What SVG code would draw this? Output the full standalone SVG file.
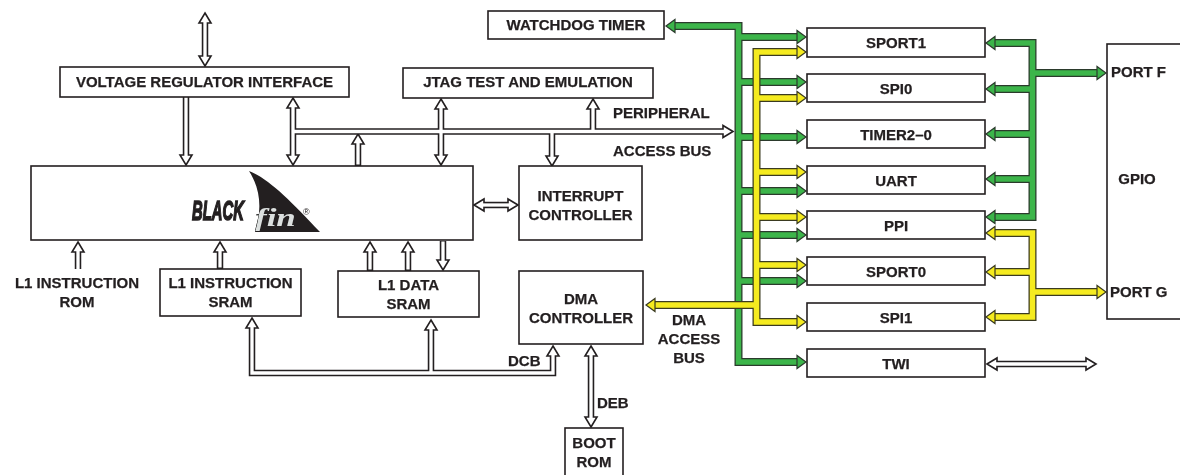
<svg xmlns="http://www.w3.org/2000/svg" width="1180" height="475" viewBox="0 0 1180 475">
<style>
.box{fill:#fff;stroke:#231f20;stroke-width:1.6}
.t{font-family:"Liberation Sans",Arial,sans-serif;font-weight:bold;font-size:15px;fill:#231f20;stroke:#231f20;stroke-width:0.25}
.m{text-anchor:middle}
.ho{fill:none;stroke:#231f20;stroke-width:6.5}
.hi{fill:none;stroke:#fff;stroke-width:3.3}
.hh{fill:#fff;stroke:#231f20;stroke-width:1.6}
.go{fill:none;stroke:#2b3a2c;stroke-width:8}
.gi{fill:none;stroke:#3cb54a;stroke-width:5.5}
.gh{fill:#3cb54a;stroke:#2b3a2c;stroke-width:1.2}
.yo{fill:none;stroke:#3a3a20;stroke-width:8}
.yi{fill:none;stroke:#f5eb1f;stroke-width:5.5}
.yh{fill:#f5eb1f;stroke:#3a3a20;stroke-width:1.2}
</style>
<rect width="1180" height="475" fill="#fff"/>

<g id="connectors">
  <g class="ho">
    <path d="M205,23V56"/>
    <path d="M186,97V155"/>
    <path d="M293,108V155"/>
    <path d="M293,131.5H723"/>
    <path d="M358,166V144"/>
    <path d="M441,109V155"/>
    <path d="M593,131.5V109"/>
    <path d="M552,131.5V156"/>
    <path d="M484,205H508"/>
    <path d="M78,269V252"/>
    <path d="M220,269V252"/>
    <path d="M370,271V252"/>
    <path d="M408,271V252"/>
    <path d="M443,241V260"/>
    <path d="M252,328V373H553V356" stroke-linejoin="miter"/>
    <path d="M431,373V330"/>
    <path d="M591,356V417"/>
    <path d="M997,364H1086"/>
  </g>
  <g class="hh">
    <polygon points="205,13 211,23 199,23"/>
    <polygon points="205,66 211,56 199,56"/>
    <polygon points="186,165 192,155 180,155"/>
    <polygon points="293,98 299,108 287,108"/>
    <polygon points="293,165 299,155 287,155"/>
    <polygon points="733,131.5 723,125.5 723,137.5"/>
    <polygon points="358,134 364,144 352,144"/>
    <polygon points="441,99 447,109 435,109"/>
    <polygon points="441,165 447,155 435,155"/>
    <polygon points="593,99 599,109 587,109"/>
    <polygon points="552,166 558,156 546,156"/>
    <polygon points="474,205 484,199 484,211"/>
    <polygon points="518,205 508,199 508,211"/>
    <polygon points="78,242 84,252 72,252"/>
    <polygon points="220,242 226,252 214,252"/>
    <polygon points="370,242 376,252 364,252"/>
    <polygon points="408,242 414,252 402,252"/>
    <polygon points="443,270 449,260 437,260"/>
    <polygon points="252,318 258,328 246,328"/>
    <polygon points="431,320 437,330 425,330"/>
    <polygon points="553,346 559,356 547,356"/>
    <polygon points="591,346 597,356 585,356"/>
    <polygon points="591,427 597,417 585,417"/>
    <polygon points="987,364 997,358 997,370"/>
    <polygon points="1096,364 1086,358 1086,370"/>
  </g>
  <g class="hi">
    <path d="M205,21V58"/>
    <path d="M186,95V157"/>
    <path d="M293,106V157"/>
    <path d="M293,131.5H725"/>
    <path d="M358,164.5V142"/>
    <path d="M441,107V157"/>
    <path d="M593,131.5V107"/>
    <path d="M552,131.5V158"/>
    <path d="M482,205H510"/>
    <path d="M78,270V250"/>
    <path d="M220,267.5V250"/>
    <path d="M370,269.5V250"/>
    <path d="M408,269.5V250"/>
    <path d="M443,241.5V262"/>
    <path d="M252,326V373H553V354" stroke-linejoin="miter"/>
    <path d="M431,373V328"/>
    <path d="M591,354V419"/>
    <path d="M995,364H1088"/>
  </g>

  <g class="go">
    <path d="M675,26H738.5V362H797" stroke-linejoin="miter"/>
    <path d="M738.5,37H797"/>
    <path d="M738.5,82H797"/>
    <path d="M738.5,137H797"/>
    <path d="M738.5,191H797"/>
    <path d="M738.5,235H797"/>
    <path d="M738.5,281H797"/>
  </g>
  <g class="gi">
    <path d="M674,26H738.5V362H798" stroke-linejoin="miter"/>
    <path d="M738.5,37H798"/>
    <path d="M738.5,82H798"/>
    <path d="M738.5,137H798"/>
    <path d="M738.5,191H798"/>
    <path d="M738.5,235H798"/>
    <path d="M738.5,281H798"/>
  </g>
  <g class="gh">
    <polygon points="666,26 675,19.5 675,32.5"/>
    <polygon points="806,37 797,30.5 797,43.5"/>
    <polygon points="806,82 797,75.5 797,88.5"/>
    <polygon points="806,137 797,130.5 797,143.5"/>
    <polygon points="806,191 797,184.5 797,197.5"/>
    <polygon points="806,235 797,228.5 797,241.5"/>
    <polygon points="806,281 797,274.5 797,287.5"/>
    <polygon points="806,362 797,355.5 797,368.5"/>
  </g>

  <g class="go">
    <path d="M995,43H1032.5V217H995" stroke-linejoin="miter"/>
    <path d="M1032.5,89H995"/>
    <path d="M1032.5,134H995"/>
    <path d="M1032.5,179H995"/>
    <path d="M1032.5,73H1097"/>
  </g>
  <g class="gi">
    <path d="M994,43H1032.5V217H994" stroke-linejoin="miter"/>
    <path d="M1032.5,89H994"/>
    <path d="M1032.5,134H994"/>
    <path d="M1032.5,179H994"/>
    <path d="M1032.5,73H1098"/>
  </g>
  <g class="gh">
    <polygon points="986,43 995,36.5 995,49.5"/>
    <polygon points="986,89 995,82.5 995,95.5"/>
    <polygon points="986,134 995,127.5 995,140.5"/>
    <polygon points="986,179 995,172.5 995,185.5"/>
    <polygon points="986,217 995,210.5 995,223.5"/>
    <polygon points="1106,73 1097,66.5 1097,79.5"/>
  </g>

  <g class="yo">
    <path d="M797,52H756.5V322H797" stroke-linejoin="miter"/>
    <path d="M756.5,98H797"/>
    <path d="M756.5,172H797"/>
    <path d="M756.5,217H797"/>
    <path d="M756.5,265H797"/>
    <path d="M756.5,305H655"/>
  </g>
  <g class="yi">
    <path d="M798,52H756.5V322H798" stroke-linejoin="miter"/>
    <path d="M756.5,98H798"/>
    <path d="M756.5,172H798"/>
    <path d="M756.5,217H798"/>
    <path d="M756.5,265H798"/>
    <path d="M756.5,305H654"/>
  </g>
  <g class="yh">
    <polygon points="806,52 797,45.5 797,58.5"/>
    <polygon points="806,98 797,91.5 797,104.5"/>
    <polygon points="806,172 797,165.5 797,178.5"/>
    <polygon points="806,217 797,210.5 797,223.5"/>
    <polygon points="806,265 797,258.5 797,271.5"/>
    <polygon points="806,322 797,315.5 797,328.5"/>
    <polygon points="646,305 655,298.5 655,311.5"/>
  </g>

  <g class="yo">
    <path d="M995,233H1032.5V317H995" stroke-linejoin="miter"/>
    <path d="M1032.5,272H995"/>
    <path d="M1032.5,292H1097"/>
  </g>
  <g class="yi">
    <path d="M994,233H1032.5V317H994" stroke-linejoin="miter"/>
    <path d="M1032.5,272H994"/>
    <path d="M1032.5,292H1098"/>
  </g>
  <g class="yh">
    <polygon points="986,233 995,226.5 995,239.5"/>
    <polygon points="986,272 995,265.5 995,278.5"/>
    <polygon points="986,317 995,310.5 995,323.5"/>
    <polygon points="1106,292 1097,285.5 1097,298.5"/>
  </g>
</g>

<g id="voltage-regulator">
  <rect class="box" x="60" y="67" width="289" height="30"/>
  <text class="t m" x="204.5" y="87">VOLTAGE REGULATOR INTERFACE</text>
</g>
<g id="jtag">
  <rect class="box" x="403" y="68" width="250" height="30"/>
  <text class="t m" x="528" y="87">JTAG TEST AND EMULATION</text>
</g>
<g id="watchdog">
  <rect class="box" x="488" y="11" width="176" height="28"/>
  <text class="t m" x="576" y="30">WATCHDOG TIMER</text>
</g>
<g id="core">
  <rect class="box" x="31" y="166" width="442" height="74"/>
  <path d="M249,171C268,178 290,200 320,232L255,232C262,210 261,190 249,171Z" fill="#231f20"/>
  <text transform="translate(192,220) scale(0.53,1)" x="0" y="0" font-family="'Liberation Sans',Arial,sans-serif" font-weight="bold" font-style="italic" font-size="28" fill="#231f20" stroke="#231f20" stroke-width="1.6">BLACK</text>
  <text transform="translate(255,226) scale(1.4,1)" x="0" y="0" font-family="'Liberation Serif','Times New Roman',serif" font-weight="bold" font-style="italic" font-size="25" fill="#fff" style="mix-blend-mode:difference">fin</text>
  <text x="303" y="215" font-family="'Liberation Sans',Arial,sans-serif" font-size="9" fill="#231f20">®</text>
</g>
<g id="interrupt-controller">
  <rect class="box" x="519" y="166" width="123" height="74"/>
  <text class="t m" x="580.5" y="201">INTERRUPT</text>
  <text class="t m" x="580.5" y="220">CONTROLLER</text>
</g>
<g id="l1-instruction-rom">
  <text class="t m" x="77" y="288">L1 INSTRUCTION</text>
  <text class="t m" x="77" y="307">ROM</text>
</g>
<g id="l1-instruction-sram">
  <rect class="box" x="160" y="269" width="141" height="47"/>
  <text class="t m" x="230.5" y="288">L1 INSTRUCTION</text>
  <text class="t m" x="230.5" y="307">SRAM</text>
</g>
<g id="l1-data-sram">
  <rect class="box" x="338" y="271" width="141" height="46"/>
  <text class="t m" x="408.5" y="290">L1 DATA</text>
  <text class="t m" x="408.5" y="309">SRAM</text>
</g>
<g id="dma-controller">
  <rect class="box" x="519" y="271" width="124" height="73"/>
  <text class="t m" x="581" y="304">DMA</text>
  <text class="t m" x="581" y="323">CONTROLLER</text>
</g>
<g id="boot-rom">
  <rect class="box" x="565" y="428" width="58" height="60"/>
  <text class="t m" x="594" y="448">BOOT</text>
  <text class="t m" x="594" y="467">ROM</text>
</g>
<g id="labels">
  <text class="t" x="613" y="118">PERIPHERAL</text>
  <text class="t" x="613" y="156">ACCESS BUS</text>
  <text class="t m" x="689" y="325">DMA</text>
  <text class="t m" x="689" y="344">ACCESS</text>
  <text class="t m" x="689" y="363">BUS</text>
  <text class="t" x="508" y="366">DCB</text>
  <text class="t" x="597" y="408">DEB</text>
</g>
<g id="sport1"><rect class="box" x="807" y="28" width="178" height="29"/><text class="t m" x="896" y="48">SPORT1</text></g>
<g id="spi0"><rect class="box" x="807" y="74" width="178" height="28"/><text class="t m" x="896" y="94">SPI0</text></g>
<g id="timer"><rect class="box" x="807" y="120" width="178" height="28"/><text class="t m" x="896" y="140">TIMER2–0</text></g>
<g id="uart"><rect class="box" x="807" y="166" width="178" height="28"/><text class="t m" x="896" y="186">UART</text></g>
<g id="ppi"><rect class="box" x="807" y="211" width="178" height="28"/><text class="t m" x="896" y="231">PPI</text></g>
<g id="sport0"><rect class="box" x="807" y="257" width="178" height="28"/><text class="t m" x="896" y="277">SPORT0</text></g>
<g id="spi1"><rect class="box" x="807" y="303" width="178" height="28"/><text class="t m" x="896" y="323">SPI1</text></g>
<g id="twi"><rect class="box" x="807" y="349" width="178" height="28"/><text class="t m" x="896" y="369">TWI</text></g>
<g id="gpio">
  <rect class="box" x="1107" y="44" width="90" height="275"/>
  <text class="t" x="1111" y="77">PORT F</text>
  <text class="t m" x="1137" y="184">GPIO</text>
  <text class="t" x="1110" y="297">PORT G</text>
</g>
</svg>
